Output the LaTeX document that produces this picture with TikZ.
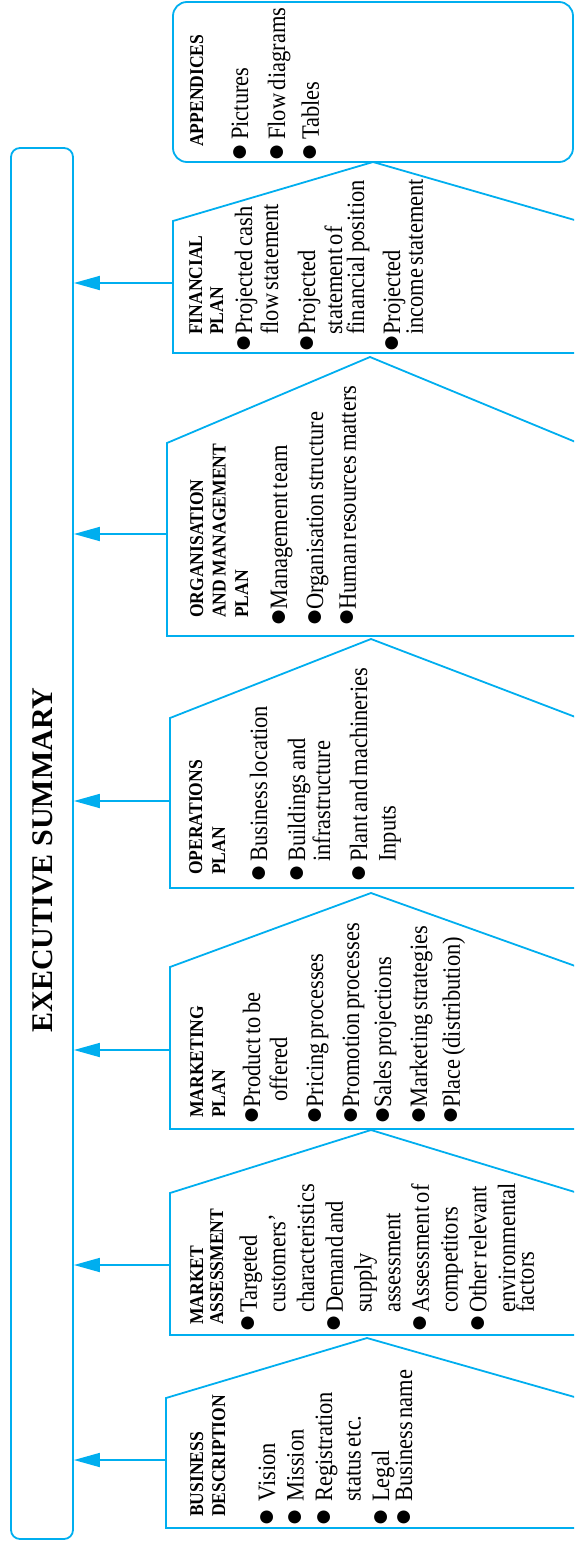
\documentclass[tikz,border=0pt]{standalone}
\usepackage{fontspec}
\setmainfont{Liberation Serif}
\newfontfamily\schmal[FakeStretch=0.9]{Liberation Serif}
\usetikzlibrary{arrows.meta}

\definecolor{linie}{HTML}{00AEEF}
\newcommand{\kopf}{\schmal\bfseries\fontsize{19.5}{22}\selectfont}
\newcommand{\liste}[1]{\schmal\fontsize{25}{#1}\selectfont}
% Aufzaehlungspunkt: Einzug, Abstand
\newcommand{\pkt}[2]{\makebox[#1pt][r]{{\rmfamily\fontsize{30}{30}\selectfont ●}\hspace{#2pt}}}
\newcommand{\ein}[1]{\hspace*{#1pt}}

\tikzset{
  kasten/.style={draw=linie, line width=1.8pt},
  pfeil/.style={draw=linie, line width=1.8pt, -{Triangle[length=26pt,width=14pt]}},
  inhalt/.style={rotate=90, anchor=north west, inner sep=0pt, align=left, text width=#1},
}

\begin{document}
\begin{tikzpicture}[x=1pt,y=-1pt]
		\path[use as bounding box, clip] (0,0) rectangle (574,1541);

		% Zusammenfassung
		\node[kasten, rounded corners=9pt, minimum width=62pt, minimum height=1391pt, inner sep=0pt] (exec) at (42,843.5) {};
		\node[rotate=90, inner sep=0pt, font=\fontsize{30}{36}\selectfont\bfseries] (exectitel) at (43,860) {EXECUTIVE SUMMARY};

		% Kaesten
		\draw[kasten, rounded corners=14pt] (173,2) rectangle (573,162);
		\draw[kasten] (578,221) -- (373,162) -- (173,221) -- (173,353) -- (578,353);
		\draw[kasten] (578,443) -- (370,357) -- (167,443) -- (167,636) -- (578,636);
		\draw[kasten] (578,718) -- (371,639) -- (170,718) -- (170,888) -- (578,888);
		\draw[kasten] (578,967) -- (371,893) -- (170,967) -- (170,1129) -- (578,1129);
		\draw[kasten] (578,1193) -- (371,1130) -- (170,1193) -- (170,1335) -- (578,1335);
		\draw[kasten] (578,1398) -- (367,1338) -- (166,1398) -- (166,1528) -- (578,1528);

		% Pfeile
		\coordinate (fp) at (173,283);
		\coordinate (om) at (167,534);
		\coordinate (op) at (170,801);
		\coordinate (mp) at (170,1050);
		\coordinate (ma) at (170,1265);
		\coordinate (bd) at (166,1460);
		\draw[pfeil] (fp) -- (fp -| exec.east);
		\draw[pfeil] (om) -- (om -| exec.east);
		\draw[pfeil] (op) -- (op -| exec.east);
		\draw[pfeil] (mp) -- (mp -| exec.east);
		\draw[pfeil] (ma) -- (ma -| exec.east);
		\draw[pfeil] (bd) -- (bd -| exec.east);

		% Beschriftung
		\node[inhalt=170pt] (aptext) at (190,147) {{\kopf APPENDICES\par}\vspace{18pt}
			\liste{27}\pkt{7}{3.5}Pictures\\[10pt]
			\pkt{7}{3.5}Flow diagrams\\[10pt]
			\pkt{7}{3.5}Tables};
		\node[inhalt=190pt] (fptext) at (189,335) {{\kopf FINANCIAL\\[-1pt]PLAN\par}\vspace{2pt}
			\liste{27}\pkt{0}{-0.5}Projected cash\\[-1pt]
			flow statement\\[10pt]
			\pkt{0}{-0.5}Projected\\
			statement of\\[-5pt]
			financial position\\[9pt]
			\pkt{0}{-0.5}Projected\\
			income statement};
		\node[inhalt=260pt] (omtext) at (190,618) {{\kopf ORGANISATION\\[0.5pt]AND MANAGEMENT\\[0.5pt]PLAN\par}\vspace{12pt}
			\liste{27}\pkt{8}{-1.5}Management team\\[9pt]
			\pkt{8}{-1.5}Organisation structure\\[10pt]
			\pkt{8}{-1.5}Human resources matters};
		\node[inhalt=230pt] (optext) at (189,875) {{\kopf OPERATIONS\\[1pt]PLAN\par}\vspace{15pt}
			\liste{27}\pkt{13}{2.5}Business location\\[11pt]
			\pkt{13}{2.5}Buildings and\\[-2pt]
			\ein{13}infrastructure\\[10pt]
			\pkt{13}{2.5}Plant and machineries\\[11pt]
			\ein{13}Inputs};
		\node[inhalt=220pt] (mptext) at (190,1118) {{\kopf MARKETING\\PLAN\par}\vspace{8pt}
			\liste{27}\pkt{10}{-1.5}Product to be\\
			\ein{16}offered\\[9pt]
			\pkt{10}{-1.5}Pricing processes\\[9pt]
			\pkt{10}{-1.5}Promotion processes\\[5pt]
			\pkt{10}{-1.5}Sales projections\\[9pt]
			\pkt{10}{-1.5}Marketing strategies\\[9pt]
			\pkt{10}{-1.5}Place (distribution)};
		\node[inhalt=175pt] (matext) at (190,1325) {{\kopf MARKET\\[-2pt]ASSESSMENT\par}\vspace{5pt}
			\liste{28.7}\pkt{12}{1.5}Targeted\\
			\ein{12}customers’\\
			\ein{12}characteristics\\
			\pkt{12}{1.5}Demand and\\
			\ein{12}supply\\
			\ein{12}assessment\\
			\pkt{12}{1.5}Assessment of\\
			\ein{12}competitors\\
			\pkt{12}{1.5}Other relevant\\
			\ein{12}environmental\\
			\ein{12}factors};
		\node[inhalt=175pt] (bdtext) at (190,1517) {{\kopf BUSINESS\\DESCRIPTION\par}\vspace{21.5pt}
			\liste{28.5}\pkt{15}{6.5}Vision\\
			\pkt{15}{6.5}Mission\\
			\pkt{15}{6.5}Registration\\
			\ein{15}status etc.\\
			\pkt{15}{6.5}Legal\\
			\pkt{15}{6.5}Business name};
	\end{tikzpicture}
\end{document}
